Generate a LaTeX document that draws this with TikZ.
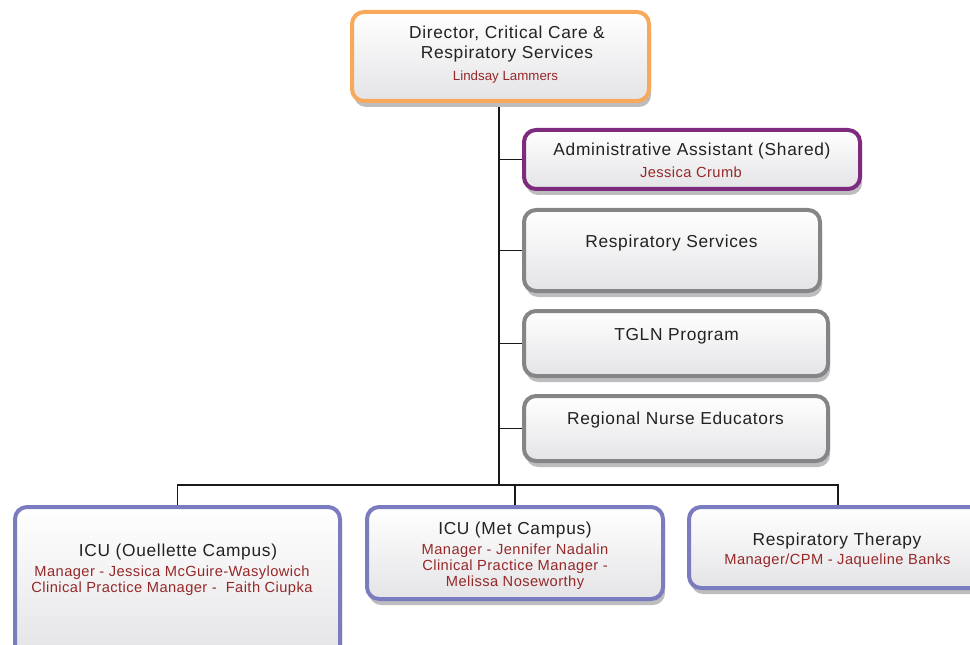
\documentclass[tikz,border=0pt]{standalone}
\usepackage{fontspec}
\setmainfont{Liberation Sans}
\newfontfamily\orgfont[LetterSpace=4]{Liberation Sans}
\newfontfamily\orgnamefont[LetterSpace=3]{Liberation Sans}
\usetikzlibrary{shadows,backgrounds}

\definecolor{dirorange}{HTML}{F8A85A}
\definecolor{adminpurple}{HTML}{7E2B7F}
\definecolor{unitgray}{HTML}{858587}
\definecolor{icublue}{HTML}{7A7CBF}
\definecolor{namered}{HTML}{962828}
\definecolor{titlegray}{HTML}{222222}
\definecolor{boxfill}{HTML}{E4E4E7}
\definecolor{shadowgray}{HTML}{BDBDBF}

\tikzset{every picture/.style={line width=0.75pt}}
\tikzset{
  orgbox/.style={draw=#1, line width=3pt, rounded corners=9pt, top color=white, bottom color=boxfill,
    general shadow={fill=shadowgray, shadow xshift=1.5pt, shadow yshift=-4.5pt}, inner sep=0pt},
  ttl/.style={anchor=north, inner sep=0pt, align=center, text=titlegray, font=\orgfont\fontsize{13}{15}\selectfont},
  nm/.style={anchor=north, inner sep=0pt, align=center, text=namered, font=\orgnamefont\fontsize{11}{12}\selectfont},
  link/.style={line width=1pt, draw=black!90},
}

\begin{document}
\begin{tikzpicture}[x=0.75pt,y=0.75pt,yscale=-1,xscale=1]
        \clip (0,0) rectangle (970,645);
        
        %Director
        \node[orgbox=dirorange, minimum width=222.75pt, minimum height=66.75pt] (dir) at (500.5,56.5) {};
        \node[ttl] (dirttl) at (507,25.5) {Director, Critical Care \&\\Respiratory Services};
        \node[nm, font=\fontsize{10}{12}\selectfont] (dirnm) at (505.5,70.5) {Lindsay Lammers};
        
        %Staff boxes
        \node[orgbox=adminpurple, minimum width=252pt, minimum height=44.25pt] (admin) at (692,159.5) {};
        \node[ttl] (adminttl) at (692,142.5) {Administrative Assistant (Shared)};
        \node[nm] (adminnm) at (691,166.5) {Jessica Crumb};
        
        \node[orgbox=unitgray, minimum width=222pt, minimum height=60.75pt] (resp) at (672,250.5) {};
        \node[ttl] (respttl) at (671.5,234.5) {Respiratory Services};
        
        \node[orgbox=unitgray, minimum width=228pt, minimum height=48.75pt] (tgln) at (676,343.5) {};
        \node[ttl] (tglnttl) at (676.5,328) {TGLN Program};
        
        \node[orgbox=unitgray, minimum width=228pt, minimum height=48.75pt] (rne) at (676,428.5) {};
        \node[ttl] (rnettl) at (675.5,411) {Regional Nurse Educators};
        
        %Units
        \node[orgbox=icublue, minimum width=243.75pt, minimum height=112.5pt] (icuo) at (177.5,582) {};
        \node[ttl] (icuottl) at (178,543.5) {ICU (Ouellette Campus)};
        \node[nm] (icuonm) at (172,565.5) {Manager - Jessica McGuire-Wasylowich\\Clinical Practice Manager - \ Faith Ciupka};
        
        \node[orgbox=icublue, minimum width=222pt, minimum height=69pt] (icum) at (515,553) {};
        \node[ttl] (icumttl) at (515,521.5) {ICU (Met Campus)};
        \node[nm] (icumnm) at (515,543.5) {Manager - Jennifer Nadalin\\Clinical Practice Manager -\\Melissa Noseworthy};
        
        \node[orgbox=icublue, minimum width=223.5pt, minimum height=60.75pt] (rt) at (838,547.5) {};
        \node[ttl] (rtttl) at (837,532.5) {Respiratory Therapy};
        \node[nm] (rtnm) at (837.5,553) {Manager/CPM - Jaqueline Banks};
        
        %Connectors
        \coordinate (bus) at (499,485);
        \begin{scope}[on background layer]
        \draw[link] (bus |- dir.south) -- (bus);
        \foreach \n in {admin,resp,tgln,rne}
          \draw[link] (bus |- \n.west) -- (\n.west);
        \draw[link] (icuo.north) -- (icuo.north |- bus) -- (rt.north |- bus) -- (rt.north);
        \draw[link] (icum.north) -- (icum.north |- bus);
        \end{scope}
  
        \end{tikzpicture}
\end{document}
